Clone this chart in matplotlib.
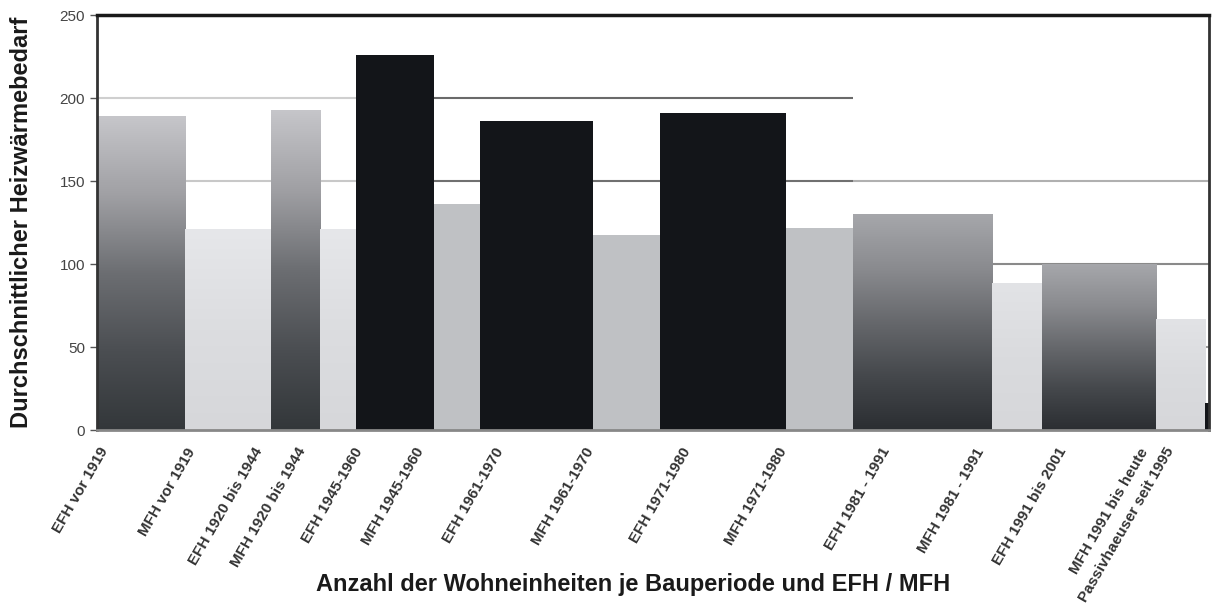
import numpy as np
import matplotlib
matplotlib.use('Agg')
from matplotlib import pyplot as plt
from matplotlib.colors import LinearSegmentedColormap
from matplotlib.transforms import ScaledTranslation

plt.rcParams['font.family'] = ['Liberation Sans', 'DejaVu Sans']

# Bauperioden, Anzahl der Wohneinheiten (Breite) und Heizwaermebedarf (Hoehe)
labels = ['EFH vor 1919', 'MFH vor 1919', 'EFH 1920 bis 1944', 'MFH 1920 bis 1944',
          'EFH 1945-1960', 'MFH 1945-1960', 'EFH 1961-1970', 'MFH 1961-1970',
          'EFH 1971-1980', 'MFH 1971-1980', 'EFH 1981 - 1991', 'MFH 1981 - 1991',
          'EFH 1991 bis 2001', 'MFH 1991 bis heute', 'Passivhaeuser seit 1995']
units = [88, 86, 49, 36, 78, 46, 113, 67, 126, 67, 139, 50, 114, 49, 4]
demand = [189, 121, 193, 121, 226, 136, 186, 117.5, 191, 122, 130, 88.5, 100, 67, 16]
# fill style of each bar
styles = ['grad_a', 'light', 'grad_a', 'light', 'black', 'mid', 'black', 'mid',
          'black', 'mid', 'grad_b', 'light2', 'grad_b', 'light2', 'black']

gradients = {
    'grad_a': ['#33373a', '#4b4e52', '#6c6e72', '#a0a0a4', '#c6c6ca'],
    'grad_b': ['#2b2e32', '#45484c', '#66686c', '#8a8b8f', '#a6a7ab'],
    'light': ['#d6d7da', '#dcdde0', '#e6e7ea'],
    'light2': ['#d6d7da', '#dadbde', '#e2e3e6'],
}
flat = {'black': '#131519', 'mid': '#bfc1c4'}

edges = np.concatenate([[0], np.cumsum(units)])
lefts = edges[:-1]
centers = lefts + np.array(units) / 2

fig = plt.figure(figsize=(12.16, 6.06), dpi=100)
ax = fig.add_axes([0.0798, 0.2904, 0.9145, 0.6846])

# grid lines: (value, from bar, to bar, colour)
grid_segments = [
    (50, 0, 15, '#9a9a9a'),
    (100, 0, 15, '#8a8a8a'),
    (150, 0, 4, '#c8c8c8'), (150, 4, 10, '#707070'), (150, 10, 15, '#b0b0b0'),
    (200, 0, 4, '#cfcfcf'), (200, 4, 10, '#6a6a6a'),
]
for val, b0, b1, col in grid_segments:
    ax.hlines(val, edges[b0], edges[b1], colors=col, linewidth=1.5, zorder=1)

for x, w, h, st in zip(lefts, units, demand, styles):
    if st in flat:
        ax.bar(x, h, width=w, align='edge', color=flat[st], linewidth=0, zorder=2)
    else:
        bar = ax.bar(x, h, width=w, align='edge', color='none', linewidth=0, zorder=2)[0]
        cmap = LinearSegmentedColormap.from_list(st, gradients[st])
        grad = np.linspace(0, 1, 256).reshape(-1, 1)
        im = ax.imshow(grad, cmap=cmap, aspect='auto', origin='lower',
                       extent=[x, x + w, 0, h], zorder=2, interpolation='bicubic')
        im.set_clip_path(bar)

ax.set_xlim(0, edges[-1])
ax.set_ylim(0, 250)

ax.set_yticks([0, 50, 100, 150, 200, 250])
ax.tick_params(axis='y', labelsize=11, labelcolor='#444444', color='#555555',
               length=5, width=1)
ax.set_xticks(centers)
ax.set_xticklabels(labels, rotation=60, ha='right', fontsize=11,
                   fontweight='bold', color='#333333')
ax.tick_params(axis='x', length=0, pad=11)
shift = ScaledTranslation(-0.3, 0, fig.dpi_scale_trans)
for lab in ax.get_xticklabels():
    lab.set_transform(lab.get_transform() + shift)

for side, lw, col in [('top', 2.5, '#1a1a1a'), ('right', 2.0, '#333333'),
                      ('left', 2.0, '#333333'), ('bottom', 2.0, '#888888')]:
    ax.spines[side].set_linewidth(lw)
    ax.spines[side].set_color(col)

fig.text(0.018, 0.633, 'Durchschnittlicher Heizwärmebedarf', rotation=90,
         ha='center', va='center', fontsize=17, fontweight='bold', color='#1a1a1a')
fig.text(0.521, 0.035, 'Anzahl der Wohneinheiten je Bauperiode und EFH / MFH',
         ha='center', va='center', fontsize=17, fontweight='bold', color='#1a1a1a')

fig.savefig('out.png', dpi=100)
